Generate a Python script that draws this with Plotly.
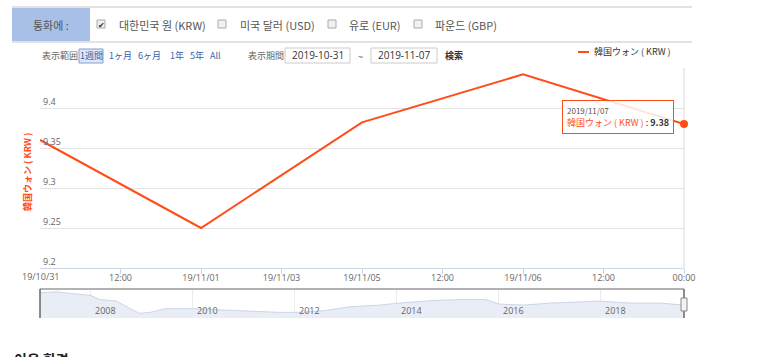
import plotly.graph_objects as go

# ---------------- data ----------------
point_dates = ["2019/10/31", "2019/11/01", "2019/11/05", "2019/11/06", "2019/11/07"]
krw_values = [9.36, 9.25, 9.382, 9.442, 9.38]

tick_pos = [0, 0.5, 1, 1.5, 2, 2.5, 3, 3.5, 4]
tick_text = ["19/10/31", "12:00", "19/11/01", "19/11/03", "19/11/05", "12:00", "19/11/06", "12:00", "00:00"]

y_ticks = [9.2, 9.25, 9.3, 9.35, 9.4, 9.45]
y_ticktext = ["9.2", "9.25", "9.3", "9.35", "9.4", ""]

nav_dates = ["2007-01-01", "2007-05-01", "2007-09-01", "2008-01-01", "2008-03-01", "2008-07-01",
             "2008-10-10", "2008-12-15", "2009-03-01", "2009-06-15", "2010-01-01", "2010-06-01",
             "2011-02-15", "2011-09-10", "2012-02-05", "2012-08-01", "2013-01-30", "2013-09-01",
             "2014-01-20", "2014-10-01", "2015-05-01", "2015-09-25", "2016-01-05", "2016-07-01",
             "2017-01-01", "2017-12-25", "2018-07-25", "2019-03-01", "2019-08-20"]
nav_values = [13.0, 13.3, 12.7, 12.2, 11.0, 10.5, 8.2, 6.8, 7.1, 8.2, 8.2, 7.9,
              7.6, 7.1, 7.1, 7.6, 8.8, 9.3, 9.9, 10.7, 11.0, 11.0, 9.6, 9.3,
              9.9, 10.5, 9.9, 9.9, 9.3]
nav_years = ["2008", "2010", "2012", "2014", "2016", "2018"]

currencies = ["대한민국 원 (KRW)", "미국 달러 (USD)", "유로 (EUR)", "파운드 (GBP)"]
range_buttons = ["1週間", "1ヶ月", "6ヶ月", "1年", "5年", "All"]

# ---------------- layout helpers ----------------
W, H = 773, 357
ML, MR, MT, MB = 40, 89, 68, 39
PW, PH = W - ML - MR, H - MT - MB

def px(x):
    return (x - ML) / PW

def py(y):
    return (H - MB - y) / PH

RED = "#ff4d1a"
FONT = "Open Sans, Noto Sans CJK JP, Noto Sans CJK KR, sans-serif"
KFONT = "Noto Sans CJK KR, sans-serif"
JFONT = "Noto Sans CJK JP, sans-serif"

fig = go.Figure()

fig.add_trace(go.Scatter(
    x=list(range(len(point_dates))), y=krw_values, mode="lines",
    line=dict(color=RED, width=2), xaxis="x", yaxis="y",
    hoverinfo="skip", showlegend=False))
fig.add_trace(go.Scatter(
    x=[len(point_dates) - 1], y=[krw_values[-1]], mode="markers",
    marker=dict(color=RED, size=8), xaxis="x", yaxis="y",
    hoverinfo="skip", showlegend=False, cliponaxis=False))

fig.add_trace(go.Scatter(
    x=nav_dates, y=nav_values, mode="lines", fill="tozeroy",
    line=dict(color="#cdd6e6", width=1), fillcolor="#e9edf5",
    xaxis="x2", yaxis="y2", hoverinfo="skip", showlegend=False))

shapes = []
annotations = []

def text(t, x, y, size=9, color="#666", family=FONT, xanchor="left", yanchor="middle", **kw):
    d = dict(text=t, x=px(x), y=py(y), xref="paper", yref="paper", xanchor=xanchor,
             yanchor=yanchor, showarrow=False, font=dict(family=family, size=size, color=color))
    d.update(kw)
    annotations.append(d)

# header bar
shapes.append(dict(type="rect", xref="paper", yref="paper", x0=px(12), x1=px(90), y0=py(42), y1=py(7),
                   fillcolor="#a8c0e8", line=dict(width=0), layer="below"))
for yy in (7, 42):
    shapes.append(dict(type="line", xref="paper", yref="paper", x0=px(12), x1=px(692), y0=py(yy), y1=py(yy),
                       line=dict(color="#e2e2e2", width=2)))
text("통화에 :", 51, 24.5, size=11, color="#555", family=KFONT, xanchor="center")

cb_x = [101, 222, 332, 418]
txt_x = [117, 238, 347, 433]
for i, c in enumerate(currencies):
    shapes.append(dict(type="rect", xref="paper", yref="paper", x0=px(cb_x[i] - 4), x1=px(cb_x[i] + 4),
                       y0=py(28), y1=py(20), fillcolor="#f0f0f0", line=dict(color="#aaa", width=1)))
    text(c, txt_x[i], 24.5, size=11, color="#555", family=KFONT)
text("✔", 101, 24, size=8, color="#333", xanchor="center")

# toolbar row
text("表示範囲", 40, 56, size=9, color="#666", family=JFONT)
shapes.append(dict(type="rect", xref="paper", yref="paper", x0=px(79), x1=px(103), y0=py(63), y1=py(49),
                   fillcolor="#dfe7f5", line=dict(color="#7f9fd0", width=1)))
btn_x = [91, 120, 149.5, 177, 196.5, 215.5]
for i, b in enumerate(range_buttons):
    text(b, btn_x[i], 56, size=9, color="#3a5fa8", family=JFONT, xanchor="center")
text("表示期間", 246, 56, size=9, color="#666", family=JFONT)
for (x0, x1, t) in [(285, 350, "2019-10-31"), (371, 437, "2019-11-07")]:
    shapes.append(dict(type="rect", xref="paper", yref="paper", x0=px(x0), x1=px(x1), y0=py(63), y1=py(48),
                       fillcolor="white", line=dict(color="#cccccc", width=1)))
    text(t, (x0 + x1) / 2, 55.5, size=10, color="#333", xanchor="center")
text("~", 360, 57, size=9, color="#666", xanchor="center")
text("<b>検索</b>", 443, 55.5, size=9, color="#333", family=JFONT)

# legend
shapes.append(dict(type="line", xref="paper", yref="paper", x0=px(578), x1=px(589), y0=py(52), y1=py(52),
                   line=dict(color=RED, width=2)))
text("韓国ウォン ( KRW )", 592, 52, size=9, color="#333", family=JFONT)

# y axis title
text("<b>韓国ウォン ( KRW )</b>", 27, 172, size=9, color=RED, family=JFONT, xanchor="center", textangle=-90)

# first x tick label (as annotation so it is not auto-hidden)
text("19/10/31", 40, 276.5, size=9, color="#666", xanchor="center")

# crosshair / right border
shapes.append(dict(type="line", xref="paper", yref="paper", x0=px(684), x1=px(684), y0=py(268), y1=py(68),
                   line=dict(color="#d8d8d8", width=1), layer="below"))

# tooltip
text("<span style='font-size:8px;color:#555'>2019/11/07</span><br>"
     "<span style='color:%s'>韓国ウォン ( KRW )</span> : <b>9.38</b>" % RED,
     562, 100, size=9, color="#333", family=JFONT, yanchor="top", align="left",
     bgcolor="rgba(255,255,255,0.85)", bordercolor=RED, borderwidth=1, borderpad=4)

# navigator frame
shapes.append(dict(type="line", xref="paper", yref="paper", x0=px(40), x1=px(684), y0=py(289), y1=py(289),
                   line=dict(color="#666", width=1)))
for xx in (40, 684):
    shapes.append(dict(type="line", xref="paper", yref="paper", x0=px(xx), x1=px(xx), y0=py(318), y1=py(289),
                       line=dict(color="#666", width=1.5)))
shapes.append(dict(type="rect", xref="paper", yref="paper", x0=px(681), x1=px(687), y0=py(311), y1=py(298),
                   fillcolor="#f2f2f2", line=dict(color="#888", width=1)))
for yr in nav_years:
    annotations.append(dict(text=yr, x=yr + "-01-01", y=py(310.5), xref="x2", yref="paper", xanchor="left",
                            yanchor="middle", xshift=2, showarrow=False,
                            font=dict(family=FONT, size=9, color="#666")))

# bottom partial heading
text("<b>이용 환경</b>", 12, 347, size=14, color="#222", family=KFONT, yanchor="top")

fig.update_layout(
    width=W, height=H, margin=dict(l=ML, r=MR, t=MT, b=MB),
    paper_bgcolor="white", plot_bgcolor="white", showlegend=False,
    font=dict(family=FONT, size=9, color="#666"),
    xaxis=dict(domain=[0, 1], anchor="y", range=[0, 4], tickmode="array", tickvals=tick_pos,
               ticktext=[""] + tick_text[1:], showgrid=False, zeroline=False, showline=True,
               linecolor="#ccd6eb", linewidth=1, ticks="outside", ticklen=5, tickcolor="#ccd6eb",
               ticklabelstandoff=-4,
               tickfont=dict(family=FONT, size=9, color="#666")),
    yaxis=dict(domain=[py(268), 1], anchor="x", range=[9.2, 9.45], tickmode="array", tickvals=y_ticks,
               ticktext=y_ticktext, showgrid=True, gridcolor="#e3e3e3", zeroline=False, showline=False,
               ticklabelposition="inside top", tickfont=dict(family=FONT, size=9, color="#666")),
    xaxis2=dict(domain=[0, 1], anchor="y2", type="date", range=["2007-01-01", "2019-08-20"],
                tickmode="array", tickvals=[y + "-01-01" for y in nav_years], showticklabels=False,
                showgrid=True, gridcolor="#ececec", zeroline=False, showline=False),
    yaxis2=dict(domain=[0, py(290)], anchor="x2", range=[5.4, 13.85], showticklabels=False,
                showgrid=False, zeroline=False),
    shapes=shapes, annotations=annotations,
)

fig.write_html("out.html")
